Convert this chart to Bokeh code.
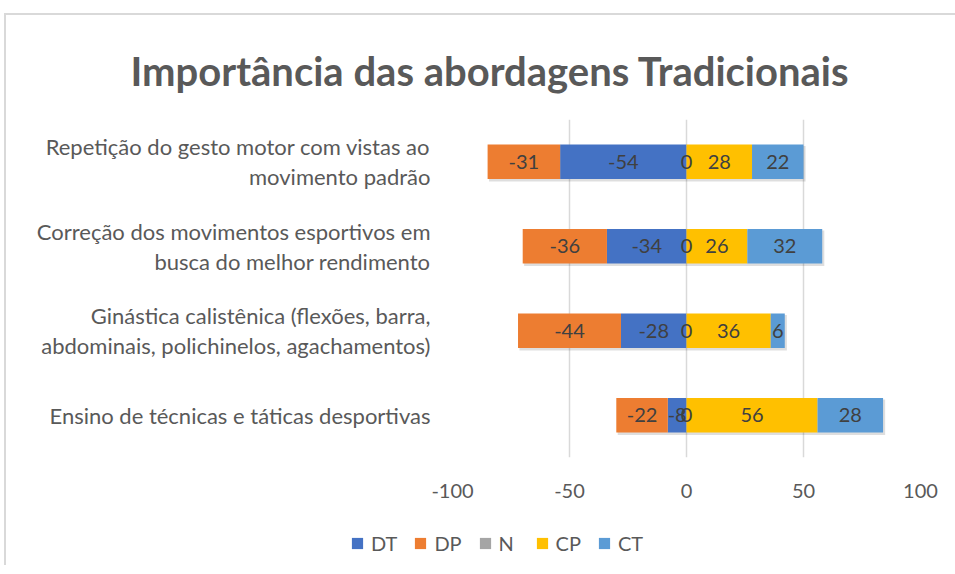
import numpy as np
from bokeh.plotting import figure
from bokeh.layouts import column
from bokeh.models import (ColumnDataSource, Range1d, FixedTicker,
                          Legend, LegendItem)
from bokeh.core.properties import value
from bokeh.embed import file_html
from bokeh.resources import INLINE

# ---------------- data ----------------
categories = [
    "Repetição do gesto motor com vistas ao\nmovimento padrão",
    "Correção dos movimentos esportivos em\nbusca do melhor rendimento",
    "Ginástica calistênica (flexões, barra,\nabdominais, polichinelos, agachamentos)",
    "Ensino de técnicas e táticas desportivas",
]
DT = [-54, -34, -28, -8]
DP = [-31, -36, -44, -22]
N = [0, 0, 0, 0]
CP = [28, 26, 36, 56]
CT = [22, 32, 6, 28]
series_names = ["DT", "DP", "N", "CP", "CT"]
x_ticks = [-100, -50, 0, 50, 100]
title_text = "Importância das abordagens Tradicionais"

colors = {"DT": "#4472C4", "DP": "#ED7D31", "N": "#A5A5A5",
          "CP": "#FFC000", "CT": "#5B9BD5"}
FONT = "Lato"

# category positions (top to bottom)
ncat = len(categories)
ypos = [ncat - i - 0.5 for i in range(ncat)]

# page offset of the whole chart (margin + border)
OX, OY = 6, 15

# ---------------- main figure ----------------
W, H = 949, 515 - OY
FL, FR, FT, FB = 452 - OX, 920 - OX, 119 - OY, 457 - OY   # frame edges in canvas px
p = figure(width=W, height=H, output_backend="svg", toolbar_location=None,
           y_range=Range1d(0, ncat), x_range=Range1d(-100, 100),
           min_border_left=FL, min_border_right=W - FR,
           min_border_top=FT, min_border_bottom=H - FB)
p.outline_line_color = None
p.background_fill_color = "white"
p.border_fill_color = "white"

src = ColumnDataSource(data=dict(y=ypos, DT=DT, DP=DP, N=N, CP=CP, CT=CT))

# shadow
neg_tot = np.array(DT) + np.array(DP)
pos_tot = np.array(N) + np.array(CP) + np.array(CT)
shadow = ColumnDataSource(data=dict(y=np.array(ypos) - 0.025,
                                    l=neg_tot + 0.6, r=pos_tot + 0.9))
p.hbar(y="y", left="l", right="r", height=0.42,
       source=shadow, fill_color="black", fill_alpha=0.13, line_color=None)

BAR_H = 0.41
p.hbar_stack(["DT", "DP"], y="y", height=BAR_H, source=src,
             color=[colors["DT"], colors["DP"]], line_color=None)
p.hbar_stack(["N", "CP", "CT"], y="y", height=BAR_H, source=src,
             color=[colors["N"], colors["CP"], colors["CT"]], line_color=None)

# data labels
dt = np.array(DT); dp = np.array(DP); nn = np.array(N); cp = np.array(CP); ct = np.array(CT)
lx, ly, lt = [], [], []
for i in range(ncat):
    centers = [(dt[i] / 2, dt[i]), (dt[i] + dp[i] / 2, dp[i]),
               (nn[i] / 2, nn[i]), (nn[i] + cp[i] / 2, cp[i]),
               (nn[i] + cp[i] + ct[i] / 2, ct[i])]
    for xc, v in centers:
        lx.append(float(xc)); ly.append(ypos[i]); lt.append(str(int(v)))
lab_src = ColumnDataSource(data=dict(x=lx, y=ly, t=lt))
p.text(x="x", y="y", text="t", source=lab_src, text_align="center",
       text_baseline="middle", text_font=value(FONT), text_font_size="20px",
       text_color="#404040")

# y axis with category labels
p.yaxis.ticker = FixedTicker(ticks=ypos)
p.yaxis.major_label_overrides = {yv: c for yv, c in zip(ypos, categories)}
p.yaxis.axis_line_color = None
p.yaxis.major_tick_line_color = None
p.yaxis.minor_tick_line_color = None
p.yaxis.major_tick_out = 0
p.yaxis.major_tick_in = 0
p.yaxis.major_label_standoff = 22
p.yaxis.major_label_text_font = FONT
p.yaxis.major_label_text_font_size = "22px"
p.yaxis.major_label_text_color = "#595959"
p.yaxis.major_label_text_line_height = 1.1
p.ygrid.grid_line_color = None

# x axis
p.xaxis.ticker = FixedTicker(ticks=x_ticks)
p.xaxis.major_label_overrides = {t: str(t) for t in x_ticks}
p.xaxis.axis_line_color = None
p.xaxis.major_tick_line_color = None
p.xaxis.minor_tick_line_color = None
p.xaxis.major_tick_out = 0
p.xaxis.major_tick_in = 0
p.xaxis.major_label_standoff = 26
p.xaxis.major_label_text_font = FONT
p.xaxis.major_label_text_font_size = "20px"
p.xaxis.major_label_text_color = "#595959"
p.xgrid.grid_line_color = "#d9d9d9"
p.xgrid.grid_line_width = 1.5

# title
p.title.text = title_text
p.title.align = "left"
p.title.offset = -322
p.title.text_font = FONT
p.title.text_font_size = "40px"
p.title.text_font_style = "bold"
p.title.text_color = "#595959"
p.title.standoff = 50

# ---------------- legend figure ----------------
LH = 50
pl = figure(width=W, height=LH, output_backend="svg", toolbar_location=None,
            x_range=Range1d(0, 1), y_range=Range1d(0, 1),
            min_border=0, min_border_left=0, min_border_right=0,
            min_border_top=0, min_border_bottom=0)
pl.axis.visible = False
pl.grid.visible = False
pl.outline_line_color = None
pl.border_fill_color = "white"
for fig in (p, pl):
    if "frame_align" in fig.properties():
        fig.frame_align = False
items = []
for n in series_names:
    # placeholder glyph outside the visible range: only its legend swatch is shown
    r = pl.hbar(y=[-5], left=[0], right=[1], height=1, fill_color=colors[n], line_color=None)
    items.append(LegendItem(label=n, renderers=[r]))
legend = Legend(items=items, orientation="horizontal", location=(350 - OX, 10),
                glyph_width=14, glyph_height=14, label_standoff=7, spacing=16,
                padding=6, margin=0, border_line_color=None, background_fill_alpha=0,
                label_text_font=FONT, label_text_font_size="20px",
                label_text_color="#595959")
pl.add_layout(legend, "center")

layout = column(p, pl, spacing=0, margin=(OY - 2, 0, 0, OX - 2),
                styles={"border-left": "2px solid #d9d9d9",
                        "border-top": "2px solid #d9d9d9"})
open("out.html", "w").write(file_html(layout, INLINE))
